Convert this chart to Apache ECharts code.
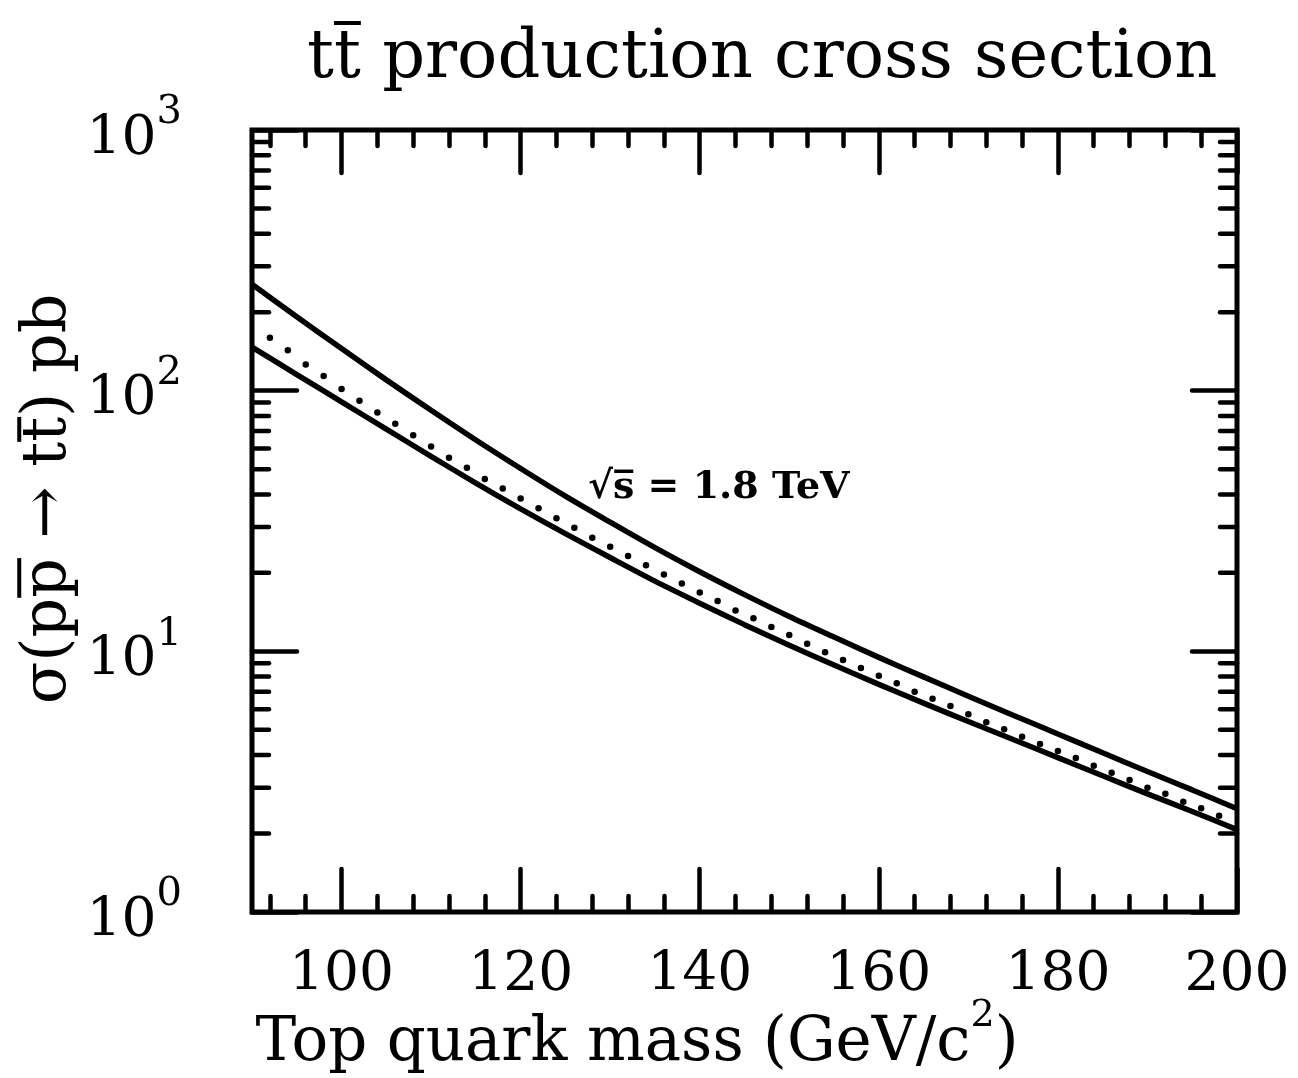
<!DOCTYPE html>
<html>
<head>
<meta charset="utf-8">
<title>tt̄ production cross section</title>
<script src="https://cdn.jsdelivr.net/npm/echarts@6/dist/echarts.min.js"></script>
<style>
  html, body { margin: 0; padding: 0; background: #fff; }
  #chart { width: 1298px; height: 1078px; }
</style>
</head>
<body>
<div id="chart"></div>
<script>
// Axis ticks (top quark mass in GeV/c^2, cross section in pb)
const massMajorTicks = [100, 120, 140, 160, 180, 200];
const massMinorTicks = [92, 96, 104, 108, 112, 116, 124, 128, 132, 136, 144, 148, 152, 156,
                        164, 168, 172, 176, 184, 188, 192, 196];
const sigmaMinorTicks = [2, 3, 4, 5, 6, 7, 8, 9, 20, 30, 40, 50, 60, 70, 80, 90,
                         200, 300, 400, 500, 600, 700, 800, 900];

// Band edges, sampled every 5 GeV/c^2
const bandMass   = [90, 95, 100, 105, 110, 115, 120, 125, 130, 135, 140, 145,
                    150, 155, 160, 165, 170, 175, 180, 185, 190, 195, 200];
const upperSigma = [256, 192, 145, 110, 84.1, 64.7, 50.3, 39.4, 31.3, 25.0, 20.2, 16.5,
                    13.6, 11.34, 9.48, 7.98, 6.73, 5.69, 4.82, 4.08, 3.46, 2.94, 2.49];
const lowerSigma = [147, 115.3, 90.6, 71.2, 56.0, 44.2, 35.2, 28.3, 22.9, 18.6, 15.3, 12.66,
                    10.56, 8.86, 7.47, 6.33, 5.38, 4.59, 3.91, 3.33, 2.84, 2.43, 2.07];

// Central prediction (dotted)
const centralMass  = [92, 94, 96, 98, 100, 102, 104, 106, 108, 110, 112, 114, 116, 118, 120,
                      122, 124, 126, 128, 130, 132, 134, 136, 138, 140, 142, 144, 146, 148, 150,
                      152, 154, 156, 158, 160, 162, 164, 166, 168, 170, 172, 174, 176, 178, 180,
                      182, 184, 186, 188, 190, 192, 194, 196, 198];
const centralSigma = [159.6, 143, 126, 113.8, 101.5, 91.5, 82.5, 74.7, 67.4, 61, 55.3, 50.6, 45.8, 42.1, 38.6,
                      35.4, 32.4, 29.8, 27.3, 25.2, 23.2, 21.4, 19.7, 18.2, 16.8, 15.6, 14.35, 13.4, 12.4, 11.55,
                      10.7, 9.91, 9.26, 8.63, 8.06, 7.54, 7.0, 6.58, 6.17, 5.74, 5.35, 5.02, 4.70, 4.41, 4.15,
                      3.90, 3.64, 3.42, 3.21, 3.0, 2.84, 2.65, 2.50, 2.34];

const FONT = 'DejaVu Serif';
const INK = '#000';
const pairs = (xs, ys) => xs.map((x, i) => [x, ys[i]]);

// text measuring, used to place the bars over the antiquark symbols
const measureCtx = document.createElement('canvas').getContext('2d');
function textWidth(str, font) {
  measureCtx.font = font;
  return measureCtx.measureText(str).width;
}

const chart = echarts.init(document.getElementById('chart'), null, { renderer: 'canvas' });

const tickStyle = { color: INK, width: 4.5, cap: 'round' };

function massAxis(position, ticks, length, extra) {
  return Object.assign({
    type: 'value', min: 90, max: 200, position: position,
    axisLine: { show: false }, splitLine: { show: false },
    axisTick: { show: true, inside: true, length: length, customValues: ticks, lineStyle: tickStyle },
    axisLabel: { show: false }
  }, extra || {});
}

const sigmaLabel = {
  margin: 70,
  fontFamily: FONT,
  color: INK,
  formatter: v => '{b|10}{s|' + Math.round(Math.log10(v)) + '}',
  rich: {
    b: { fontFamily: FONT, fontSize: 55, lineHeight: 74, verticalAlign: 'bottom', color: INK },
    s: { fontFamily: FONT, fontSize: 40, lineHeight: 40, verticalAlign: 'top', color: INK }
  }
};

// title
const TITLE_LEFT = 307, TITLE_SIZE = 67;
const titleFont = TITLE_SIZE + 'px "' + FONT + '"';
const tBarX1 = TITLE_LEFT + textWidth('t', titleFont);
const tBarX2 = TITLE_LEFT + textWidth('tt', titleFont);

// vertical axis title, drawn rotated
const YNAME = 'σ(pp → tt) pb';
const YNAME_SIZE = 62;
const yNameFont = YNAME_SIZE + 'px "' + FONT + '"';
const pBar = [textWidth('σ(p', yNameFont), textWidth('σ(pp', yNameFont)];
const ttBar = [textWidth('σ(pp → t', yNameFont), textWidth('σ(pp → tt', yNameFont)];
const yBarLevel = -YNAME_SIZE * 0.98;

const barStyle = { stroke: INK, lineWidth: 4 };

const option = {
  animation: false,
  backgroundColor: '#fff',
  title: {
    text: 'tt production cross section',
    left: TITLE_LEFT, top: 26, padding: 0,
    textStyle: { fontFamily: FONT, fontSize: TITLE_SIZE, fontWeight: 'normal', color: INK }
  },
  grid: {
    left: 252, top: 130, right: 61, bottom: 166,
    outerBoundsMode: 'none', containLabel: false,
    show: true, borderColor: INK, borderWidth: 5, backgroundColor: 'transparent'
  },
  xAxis: [
    massAxis('bottom', massMajorTicks, 43, {
      axisLabel: { show: true, customValues: massMajorTicks, margin: 36,
                   fontFamily: FONT, fontSize: 55, color: INK },
      name: '{n|Top quark mass (GeV/c}{s|2}{n|)}',
      nameLocation: 'middle', nameGap: 85, nameMoveOverlap: false,
      nameTextStyle: {
        padding: [0, 215, 0, 0],
        rich: {
          n: { fontFamily: FONT, fontSize: 61, lineHeight: 78, verticalAlign: 'bottom', color: INK },
          s: { fontFamily: FONT, fontSize: 38, lineHeight: 38, verticalAlign: 'top', color: INK }
        }
      }
    }),
    massAxis('bottom', massMinorTicks, 16),
    massAxis('top', massMajorTicks, 43),
    massAxis('top', massMinorTicks, 16)
  ],
  yAxis: [
    {
      type: 'log', logBase: 10, min: 1, max: 1000, position: 'left',
      axisLine: { show: false }, splitLine: { show: false },
      axisTick: { show: true, inside: true, length: 45, lineStyle: tickStyle },
      axisLabel: sigmaLabel
    },
    {
      type: 'log', logBase: 10, min: 1, max: 1000, position: 'right',
      axisLine: { show: false }, splitLine: { show: false },
      axisTick: { show: true, inside: true, length: 45, lineStyle: tickStyle },
      axisLabel: { show: false }
    }
  ],
  graphic: [
    // bar over the second t of the title
    { type: 'line', shape: { x1: tBarX1, y1: 23, x2: tBarX2, y2: 23 }, style: barStyle },
    // vertical axis title
    {
      type: 'group', x: 80, y: 704, rotation: Math.PI / 2,
      children: [
        { type: 'text', x: 0, y: 0,
          style: { text: YNAME, font: yNameFont, fill: INK, align: 'left', verticalAlign: 'bottom' } },
        { type: 'line', shape: { x1: pBar[0], y1: yBarLevel, x2: pBar[1], y2: yBarLevel }, style: barStyle },
        { type: 'line', shape: { x1: ttBar[0], y1: yBarLevel, x2: ttBar[1], y2: yBarLevel }, style: barStyle }
      ]
    },
    // collider energy
    {
      type: 'text', left: 588, top: 469,
      style: { text: '\u221As\u0305 = 1.8 TeV', font: 'bold 38px "DejaVu Serif"', fill: INK }
    }
  ],
  series: [
    {
      // minor decade ticks on both vertical edges
      type: 'custom', silent: true, clip: false,
      data: sigmaMinorTicks.map(v => [90, v]),
      renderItem: (params, api) => {
        const v = api.value(1);
        const l = api.coord([90, v]);
        const r = api.coord([200, v]);
        const st = { stroke: INK, lineWidth: 4.5, lineCap: 'round' };
        return {
          type: 'group',
          children: [
            { type: 'line', shape: { x1: l[0], y1: l[1], x2: l[0] + 17, y2: l[1] }, style: st },
            { type: 'line', shape: { x1: r[0] - 17, y1: r[1], x2: r[0], y2: r[1] }, style: st }
          ]
        };
      }
    },
    {
      name: 'upper', type: 'line', data: pairs(bandMass, upperSigma),
      showSymbol: false, smooth: 0.3, lineStyle: { color: INK, width: 5.5 }
    },
    {
      name: 'lower', type: 'line', data: pairs(bandMass, lowerSigma),
      showSymbol: false, smooth: 0.3, lineStyle: { color: INK, width: 5.5 }
    },
    {
      name: 'central', type: 'line', data: pairs(centralMass, centralSigma),
      showSymbol: true, symbol: 'circle', symbolSize: 6.5,
      itemStyle: { color: INK }, lineStyle: { width: 0, opacity: 0 }
    }
  ]
};

chart.setOption(option);
</script>
</body>
</html>
